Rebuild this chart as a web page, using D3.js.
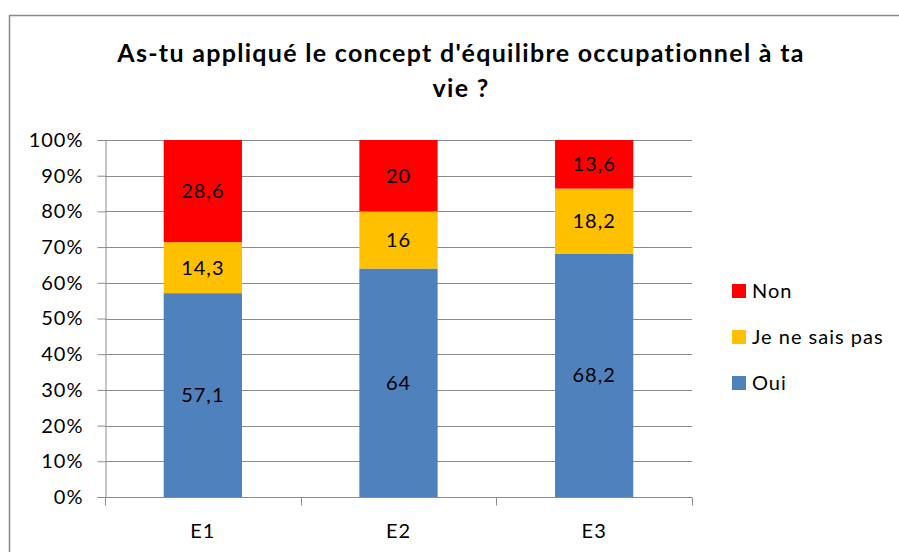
<!DOCTYPE html>
<html>
<head>
<meta charset="utf-8">
<script src="https://cdn.jsdelivr.net/npm/d3@7"></script>
<style>
  body { margin: 0; background: #fff; }
  svg text { font-family: Lato, "Open Sans", sans-serif; fill: #000; }
</style>
</head>
<body>
<svg id="chart"></svg>
<script>
const categories = ['E1', 'E2', 'E3'];
const oui = [57.1, 64, 68.2];
const jeNeSaisPas = [14.3, 16, 18.2];
const non = [28.6, 20, 13.6];
const seriesNames = ['Oui', 'Je ne sais pas', 'Non'];
const seriesColors = ['#4f81bd', '#ffc000', '#ff0000'];
const tickValues = [0, 10, 20, 30, 40, 50, 60, 70, 80, 90, 100];
const titleLines = ["As-tu appliqué le concept d'équilibre occupationnel à ta", 'vie ?'];

const width = 899, height = 552;
const margin = { left: 105, right: 207, top: 140, bottom: 55 };
const fontSize = 20, spacing = 1;

const svg = d3.select('#chart')
  .attr('width', width)
  .attr('height', height);

// outer frame
svg.append('rect')
  .attr('x', 9.5).attr('y', 15.5)
  .attr('width', 900).attr('height', 560)
  .attr('fill', 'none')
  .attr('stroke', '#888')
  .attr('stroke-width', 1.5);

const table = categories.map((c, i) => ({ cat: c, Oui: oui[i], 'Je ne sais pas': jeNeSaisPas[i], Non: non[i] }));
const stacked = d3.stack().keys(seriesNames)(table);

const x = d3.scaleBand()
  .domain(categories)
  .range([margin.left, width - margin.right])
  .paddingInner(0.6)
  .paddingOuter(0.3);

const y = d3.scaleLinear()
  .domain([0, 100])
  .range([height - margin.bottom, margin.top]);

// gridlines
svg.append('g')
  .selectAll('line')
  .data(tickValues.slice(1))
  .join('line')
  .attr('x1', margin.left).attr('x2', width - margin.right)
  .attr('y1', d => Math.round(y(d)) + 0.5).attr('y2', d => Math.round(y(d)) + 0.5)
  .attr('stroke', '#8c8c8c')
  .attr('stroke-width', 1);

// y axis
const yAxis = svg.append('g')
  .attr('transform', `translate(${margin.left + 0.5},0)`)
  .call(d3.axisLeft(y).tickValues(tickValues).tickFormat(d => d + '%').tickSize(8).tickPadding(14));
yAxis.selectAll('text')
  .attr('font-size', fontSize)
  .attr('letter-spacing', spacing)
  .style('font-family', 'Lato, sans-serif');
yAxis.selectAll('line, path').attr('stroke', '#8c8c8c');

// x axis (ticks between categories)
const xAxisG = svg.append('g')
  .attr('transform', `translate(0,${Math.round(y(0)) + 0.5})`);
xAxisG.append('line')
  .attr('x1', margin.left).attr('x2', width - margin.right)
  .attr('stroke', '#8c8c8c');
const catWidth = (width - margin.left - margin.right) / categories.length;
xAxisG.selectAll('.sep')
  .data(d3.range(categories.length + 1))
  .join('line')
  .attr('class', 'sep')
  .attr('x1', i => Math.round(margin.left + i * catWidth) + 0.5)
  .attr('x2', i => Math.round(margin.left + i * catWidth) + 0.5)
  .attr('y1', 0).attr('y2', 8)
  .attr('stroke', '#8c8c8c');
xAxisG.selectAll('.lab')
  .data(categories)
  .join('text')
  .attr('class', 'lab')
  .attr('x', d => x(d) + x.bandwidth() / 2)
  .attr('y', 40)
  .attr('text-anchor', 'middle')
  .attr('font-size', fontSize)
  .attr('letter-spacing', spacing)
  .text(d => d);

// bars
const layers = svg.append('g')
  .selectAll('g')
  .data(stacked)
  .join('g')
  .attr('fill', (d, i) => seriesColors[i]);

layers.selectAll('rect')
  .data(d => d)
  .join('rect')
  .attr('x', d => x(d.data.cat))
  .attr('width', x.bandwidth())
  .attr('y', d => y(d[1]))
  .attr('height', d => y(d[0]) - y(d[1]));

// data labels
layers.selectAll('text')
  .data(d => d.map(v => ({ v, key: d.key })))
  .join('text')
  .attr('x', d => x(d.v.data.cat) + x.bandwidth() / 2)
  .attr('y', d => (y(d.v[0]) + y(d.v[1])) / 2)
  .attr('dy', '0.35em')
  .attr('text-anchor', 'middle')
  .attr('font-size', fontSize)
  .attr('letter-spacing', spacing)
  .text(d => String(d.v.data[d.key]).replace('.', ','));

// title
svg.append('text')
  .attr('text-anchor', 'middle')
  .attr('font-size', 25)
  .attr('font-weight', 'bold')
  .attr('letter-spacing', 1.3)
  .selectAll('tspan')
  .data(titleLines)
  .join('tspan')
  .attr('x', 461)
  .attr('y', (d, i) => 62 + i * 35)
  .text(d => d);

// legend
const legendItems = seriesNames.slice().reverse();
const legend = svg.append('g')
  .selectAll('g')
  .data(legendItems)
  .join('g')
  .attr('transform', (d, i) => `translate(732,${291 + i * 46})`);
legend.append('rect')
  .attr('x', 0).attr('y', -7)
  .attr('width', 14).attr('height', 14)
  .attr('fill', d => seriesColors[seriesNames.indexOf(d)]);
legend.append('text')
  .attr('x', 20)
  .attr('dy', '0.35em')
  .attr('font-size', fontSize)
  .attr('letter-spacing', spacing)
  .text(d => d);
</script>
</body>
</html>
